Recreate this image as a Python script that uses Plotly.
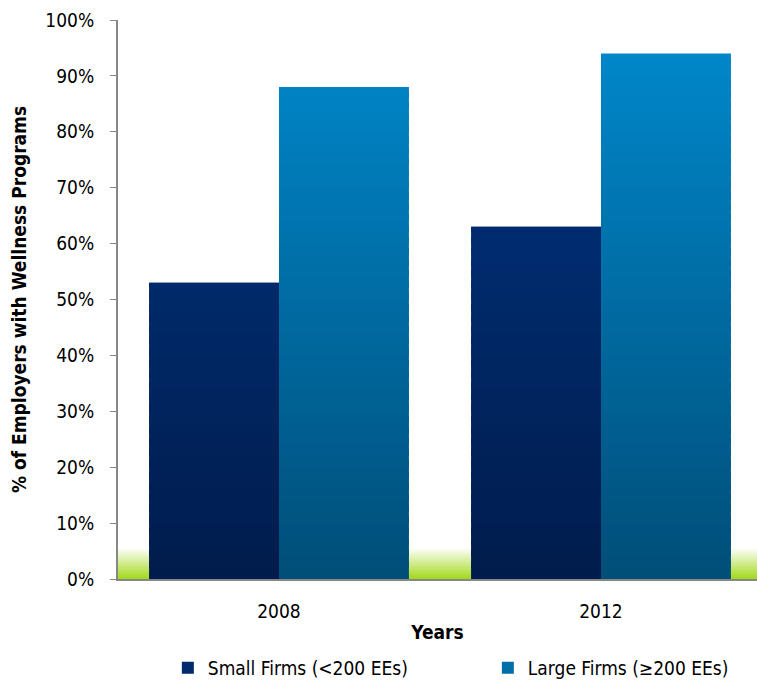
import base64
import plotly.graph_objects as go

years = ["2008", "2012"]
small_firms = [53, 63]
large_firms = [88, 94]
series_names = ["Small Firms (<200 EEs)", "Large Firms (≥200 EEs)"]

FONT = "DejaVu Sans Condensed, DejaVu Sans, sans-serif"
FS = 19

# gradient colours (bottom, top) per series
grad = {
    "small": ((0, 28, 76), (0, 54, 132)),
    "large": ((0, 78, 120), (0, 138, 206)),
}


def mix(c0, c1, t):
    return "rgb(%d,%d,%d)" % tuple(round(a + (b - a) * t) for a, b in zip(c0, c1))


fig = go.Figure()
N = 50
step = 100 / N
for key, vals, name in [("small", small_firms, series_names[0]),
                        ("large", large_firms, series_names[1])]:
    c0, c1 = grad[key]
    for i in range(N):
        base = i * step
        # slices overlap slightly to hide anti-aliasing seams
        h = [max(0.0, min(step * 1.6, v - base)) for v in vals]
        if max(h) <= 0:
            continue
        col = mix(c0, c1, (i + 0.5) / N)
        fig.add_trace(go.Bar(
            x=years, y=h, base=[base] * len(vals),
            offsetgroup=key, name=name,
            marker=dict(color=col, line=dict(width=0)),
            showlegend=False, legendgroup=key, hoverinfo="skip",
        ))
    fig.add_trace(go.Bar(
        x=years, y=[None, None], offsetgroup=key, name=name,
        marker=dict(color=mix(c0, c1, 0.55), line=dict(width=0)),
        showlegend=True, legendgroup=key,
    ))

svg = ('<svg xmlns="http://www.w3.org/2000/svg" viewBox="0 0 10 10" width="10" height="10" '
       'preserveAspectRatio="none"><defs><linearGradient id="g" x1="0" y1="0" x2="0" y2="1">'
       '<stop offset="0" stop-color="#ffffff"/><stop offset="0.1" stop-color="#ffffff"/>'
       '<stop offset="1" stop-color="#A2D81A"/></linearGradient></defs>'
       '<rect width="10" height="10" fill="url(#g)"/></svg>')
src = "data:image/svg+xml;base64," + base64.b64encode(svg.encode()).decode()

fig.update_layout(
    width=757, height=681,
    margin=dict(l=118, r=0, t=20, b=102, autoexpand=False),
    plot_bgcolor="white", paper_bgcolor="white",
    barmode="group", bargap=0.193, bargroupgap=0,
    font=dict(family=FONT, size=FS, color="black"),
    images=[dict(source=src, xref="paper", yref="y", x=0, y=6.2, sizex=1, sizey=6.2,
                 sizing="stretch", layer="below", xanchor="left", yanchor="top")],
    xaxis=dict(showline=True, linecolor="#878787", linewidth=2, ticks="",
               range=[-0.5, 1.4845], automargin=False,
               ticklabelstandoff=14,
               title=dict(text="<b>Years</b>", standoff=5, font=dict(size=FS)),
               tickfont=dict(size=FS)),
    yaxis=dict(range=[0, 100], tick0=0, dtick=10, tickmode="linear", ticksuffix="%",
               showgrid=False, zeroline=False, automargin=False,
               showline=True, linecolor="#878787", linewidth=2,
               ticks="outside", ticklen=6, tickcolor="#878787", tickwidth=1,
               ticklabelstandoff=12,
               title=dict(text="<b>% of Employers with Wellness Programs</b>",
                          standoff=14, font=dict(size=FS)),
               tickfont=dict(size=FS)),
    legend=dict(orientation="h", x=0.078, xanchor="left", y=-0.125, yanchor="top",
                font=dict(size=FS), traceorder="normal", itemwidth=30,
                entrywidthmode="pixels", entrywidth=275),
    showlegend=True,
)

fig.write_html("out.html")
